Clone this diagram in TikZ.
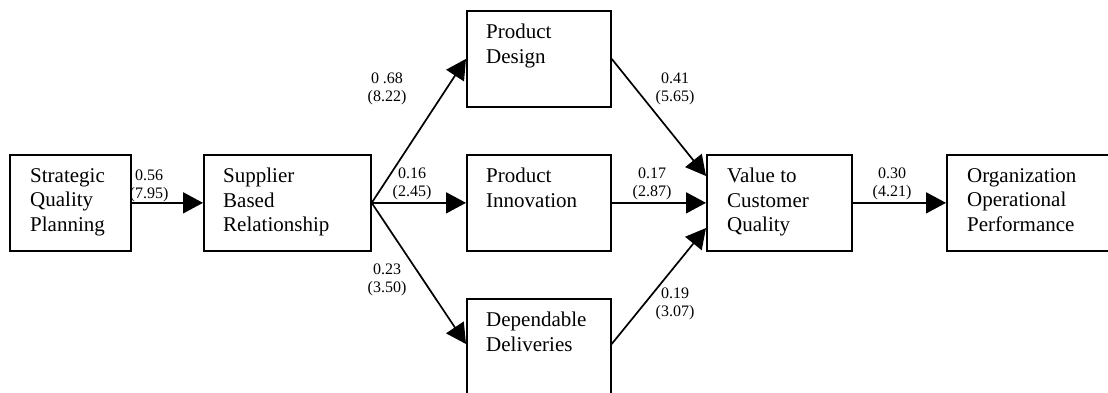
\documentclass[tikz,border=0pt]{standalone}
\usepackage{fontspec}
\setmainfont{Liberation Serif}
\usetikzlibrary{arrows.meta}
\begin{document}
\begin{tikzpicture}[x=1pt,y=-1pt,
  boxnode/.style={draw,line width=1.7pt,minimum width=#1,minimum height=96pt,inner sep=0pt,anchor=north west},
  boxtext/.style={anchor=north west,align=left,inner sep=0pt,font=\fontsize{21}{24.5}\selectfont},
  lbl/.style={align=center,inner sep=0pt,font=\fontsize{16}{18.5}\selectfont},
  conn/.style={line width=1.7pt,-{Triangle[length=20pt,width=21pt]}}]
\useasboundingbox (0,0) rectangle (1108,392);
\clip (0,0) rectangle (1108,392);
% boxes
\node[boxnode=121pt] (sqp) at (9,154) {};
\node[boxnode=167pt] (sbr) at (203,154) {};
\node[boxnode=144pt] (pd) at (466,10) {};
\node[boxnode=144pt] (pi) at (466,154) {};
\node[boxnode=144pt,minimum height=100pt] (dd) at (466,298) {};
\node[boxnode=145pt] (vcq) at (706,154) {};
\node[boxnode=166pt] (oop) at (946,154) {};
% texts
\node[boxtext] (tsqp) at (30,168) {Strategic\\Quality\\Planning};
\node[boxtext] (tsbr) at (223,168) {Supplier\\Based\\Relationship};
\node[boxtext] (tpd) at (486,24) {Product\\Design};
\node[boxtext] (tpi) at (486,168) {Product\\Innovation};
\node[boxtext] (tdd) at (486,312) {Dependable\\Deliveries};
\node[boxtext] (tvcq) at (727,168) {Value to\\Customer\\Quality};
\node[boxtext] (toop) at (967,168) {Organization\\Operational\\Performance};
% anchor coordinates
\coordinate (ddmw) at ([yshift=-46pt]dd.north west);
\coordinate (ddme) at ([yshift=-46pt]dd.north east);
\coordinate (vin1) at ([yshift=-22pt]vcq.north west);
\coordinate (vin3) at ([yshift=-74pt]vcq.north west);
% connectors
\draw[conn] (sqp.east) -- (sbr.west);
\draw[conn] (sbr.east) -- (pd.west);
\draw[conn] (sbr.east) -- (pi.west);
\draw[conn] (sbr.east) -- (ddmw);
\draw[conn] (pd.east) -- (vin1);
\draw[conn] (pi.east) -- (vcq.west);
\draw[conn] (ddme) -- (vin3);
\draw[conn] (vcq.east) -- (oop.west);
% labels
\node[lbl] (l1) at (149,186) {0.56\\(7.95)};
\node[lbl] (l2) at (387,89) {0 .68\\(8.22)};
\node[lbl] (l3) at (412,184) {0.16\\(2.45)};
\node[lbl] (l4) at (387,280) {0.23\\(3.50)};
\node[lbl] (l5) at (675,89) {0.41\\(5.65)};
\node[lbl] (l6) at (652,184) {0.17\\(2.87)};
\node[lbl] (l7) at (675,304) {0.19\\(3.07)};
\node[lbl] (l8) at (892,184) {0.30\\(4.21)};
\end{tikzpicture}
\end{document}
